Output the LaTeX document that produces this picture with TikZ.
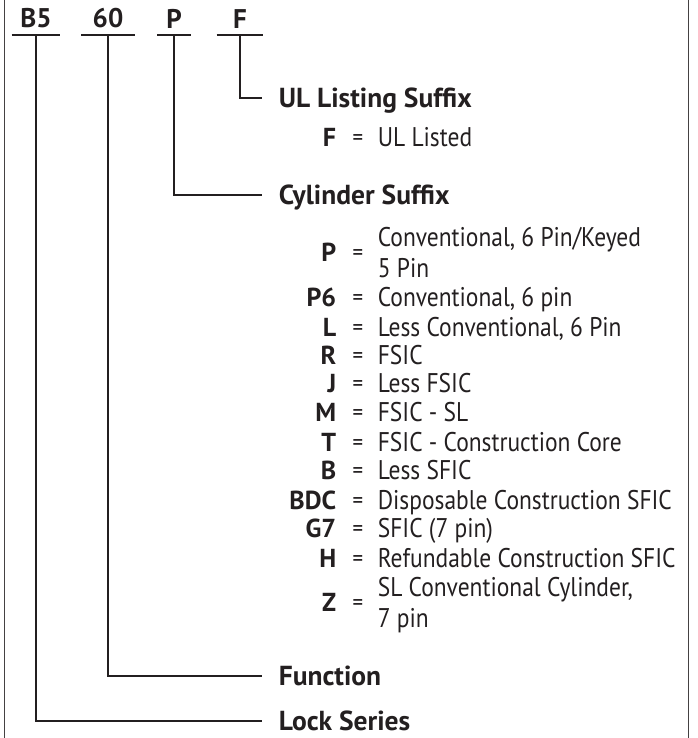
\documentclass[tikz,border=0pt]{standalone}
\usepackage{fontspec}
\setmainfont{PT Sans}[FakeStretch=0.87]
\newfontfamily\widebold{PT Sans Bold}
\definecolor{ink}{HTML}{231F20}

\begin{document}
\begin{tikzpicture}[x=1pt, y=-1pt, line width=1.6pt, draw=ink, text=ink,
		code/.style={font=\widebold\fontsize{27}{27}\selectfont, anchor=south, inner xsep=0pt, inner ysep=6pt},
		head/.style={font=\widebold\fontsize{27.5}{27.5}\selectfont, anchor=west, inner xsep=16pt, inner ysep=0pt, text height=19pt, text depth=0pt},
		key/.style={font=\widebold\fontsize{26}{26}\selectfont, anchor=base east, inner sep=0pt},
		eq/.style={font=\fontsize{24}{24}\selectfont, anchor=base, inner sep=0pt},
		desc/.style={font=\fontsize{27}{31}\selectfont, anchor=base west, inner sep=0pt},
		twoline/.style={desc, anchor=west, align=left, text depth=0pt}]
	\useasboundingbox (0,0) rectangle (697,738);
	\draw[line width=1pt, ink!85] (4,0) -- (4,738) (688,0) -- (688,738);
	\foreach \code/\cx/\uw/\name in {B5/36/47/b5, 60/108/52/n60, P/174/32/p, F/240/45/f}{
			\node[code, minimum width=\uw] (\name) at (\cx,35) {\code};
			\draw (\name.south west) -- (\name.south east);
		}
	\node[head] (listing) at (262,98) {UL Listing Suffix};
	\node[head] (cylinder) at (262,195) {Cylinder Suffix};
	\node[head] (function) at (262,676) {Function};
	\node[head] (series) at (262,721) {Lock Series};
	\draw (f.south) |- (listing.west);
	\draw (p.south) |- (cylinder.west);
	\draw (n60.south) |- (function.west);
	\draw (b5.south) |- (series.west);
	\foreach \kname/\ktext/\row [count=\i] in {F/UL Listed/138, P/{}/252, P6/{Conventional, 6 pin}/297,
			L/{Less Conventional, 6 Pin}/327, R/FSIC/355, J/Less FSIC/383, M/FSIC - SL/412,
			T/FSIC - Construction Core/442, B/Less SFIC/470, BDC/Disposable Construction SFIC/500,
			G7/SFIC (7 pin)/528, H/Refundable Construction SFIC/558, Z/{}/602}{
			\node[key] (k\i) at (337,\row+9) {\kname};
			\node[eq] (e\i) at (358,\row+8) {=};
			\node[desc] (d\i) at (377,\row+9) {\ktext};
		}
	\node[twoline] (p2) at (377,252) {Conventional, 6 Pin/Keyed\\5 Pin};
	\node[twoline] (z2) at (377,602) {SL Conventional Cylinder,\\7 pin};
\end{tikzpicture}
\end{document}
